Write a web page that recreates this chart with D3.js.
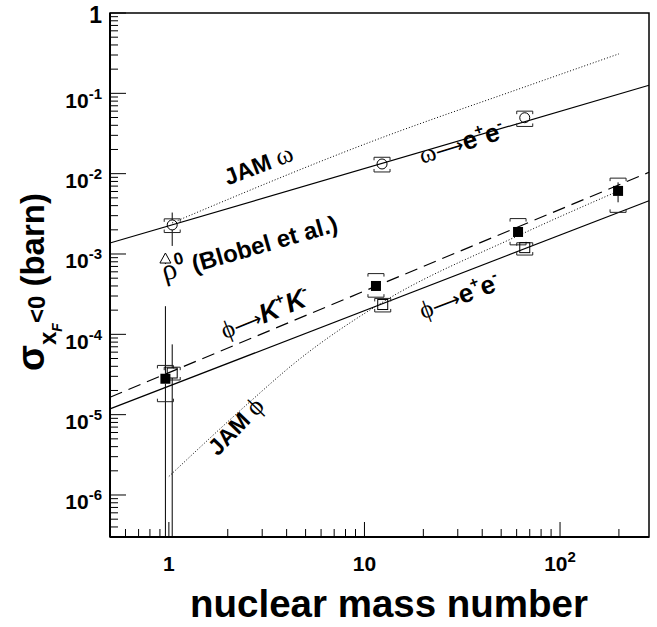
<!DOCTYPE html>
<html><head><meta charset="utf-8">
<script src="https://cdn.jsdelivr.net/npm/d3@7"></script>
<style>body{margin:0;background:#fff} svg{display:block}</style>
</head><body><svg id="c" width="657" height="627"></svg>
<script>
// ---------- data ----------
const omegaA = [1.04, 12.3, 66];
const omegaS = [2.3e-3, 1.32e-2, 4.97e-2];
const omegaStatLo = [1.26e-3, 1.32e-2, 4.97e-2];
const omegaStatHi = [3.28e-3, 1.32e-2, 4.97e-2];
const omegaSysLo = [1.85e-3, 1.05e-2, 3.87e-2];
const omegaSysHi = [2.74e-3, 1.6e-2, 6.0e-2];

const phiKKA = [0.96, 11.45, 61, 198];
const phiKKS = [2.8e-5, 4.0e-4, 1.88e-3, 6.1e-3];
const phiKKStatLo = [0, 4.0e-4, 1.88e-3, 4.4e-3];
const phiKKStatHi = [2.24e-4, 4.0e-4, 1.88e-3, 7.8e-3];
const phiKKSysLo = [1.45e-5, 2.9e-4, 1.3e-3, 3.3e-3];
const phiKKSysHi = [4.1e-5, 5.7e-4, 2.76e-3, 8.8e-3];

const phiEEA = [1.04, 12.4, 66];
const phiEES = [3.3e-5, 2.35e-4, 1.2e-3];
const phiEEStatLo = [0, 2.35e-4, 1.2e-3];
const phiEEStatHi = [7.5e-5, 2.35e-4, 1.2e-3];
const phiEESysLo = [2.7e-5, 1.9e-4, 9.7e-4];
const phiEESysHi = [3.9e-5, 2.8e-4, 1.38e-3];

const rhoA = [0.96];
const rhoS = [8.66e-4];
const rhoStatLo = [7.5e-4];
const rhoStatHi = [8.66e-4];

const fitOmegaA = [0.5, 285], fitOmegaS = [1.37e-3, 0.126];
const fitPhiKKA = [0.5, 285], fitPhiKKS = [1.65e-5, 1.04e-2];
const fitPhiEEA = [0.5, 285], fitPhiEES = [1.18e-5, 4.6e-3];
const jamOmegaA = [1.04, 12, 63, 200], jamOmegaS = [2.44e-3, 2.75e-2, 0.1155, 0.31];
const jamPhiA = [1, 2.6, 4.5, 12, 63, 190], jamPhiS = [1.7e-6, 1.45e-5, 4.6e-5, 2.4e-4, 1.75e-3, 5.8e-3];

const xMajor = [1, 10, 100];
const xMajorLabels = [["1", ""], ["10", ""], ["10", "2"]];
const yMajor = [1, 1e-1, 1e-2, 1e-3, 1e-4, 1e-5, 1e-6];
const yMajorLabels = [["1", ""], ["10", "-1"], ["10", "-2"], ["10", "-3"], ["10", "-4"], ["10", "-5"], ["10", "-6"]];

// ---------- setup ----------
const svg = d3.select("#c");
const L = 110, R = 649, T = 13, B = 537;
const x = d3.scaleLog().domain([0.5, 285]).range([L, R]);
const y = d3.scaleLog().domain([3e-7, 1]).range([B, T]);
const FONT = "'Liberation Sans', Arial, Helvetica, sans-serif";
const GREEK = "'Liberation Serif', 'DejaVu Serif', serif";
const ARROW = "'DejaVu Sans', sans-serif";
const yc = v => v <= y.domain()[0] ? B : y(v);

// minor ticks
const xMinor = [], yMinor = [];
for (let e = -1; e <= 2; e++) for (let k = 2; k <= 9; k++) {
  const v = k * Math.pow(10, e);
  if (v > 0.5 && v < 285 && !xMajor.includes(v)) xMinor.push(v);
}
for (let e = -7; e <= 0; e++) for (let k = 2; k <= 9; k++) {
  const v = k * Math.pow(10, e);
  if (v > 3e-7 && v < 1) yMinor.push(v);
}

const ax = svg.append("g").attr("stroke", "#000").attr("stroke-width", 1);
ax.selectAll(".xm").data(xMajor).join("line")
  .attr("x1", d => x(d)).attr("x2", d => x(d)).attr("y1", B).attr("y2", B - 15);
ax.selectAll(".xn").data(xMinor).join("line")
  .attr("x1", d => x(d)).attr("x2", d => x(d)).attr("y1", B).attr("y2", B - 8);
ax.selectAll(".ym").data(yMajor).join("line")
  .attr("y1", d => y(d)).attr("y2", d => y(d)).attr("x1", L).attr("x2", L + 16);
ax.selectAll(".yn").data(yMinor).join("line")
  .attr("y1", d => y(d)).attr("y2", d => y(d)).attr("x1", L).attr("x2", L + 8);

// frame
svg.append("rect").attr("x", L).attr("y", T).attr("width", R - L).attr("height", B - T)
  .attr("fill", "none").attr("stroke", "#000").attr("stroke-width", 1.5);
svg.append("line").attr("x1", L).attr("x2", R).attr("y1", B).attr("y2", B).attr("stroke", "#000").attr("stroke-width", 2);
svg.append("line").attr("x1", L).attr("x2", L).attr("y1", T).attr("y2", B).attr("stroke", "#000").attr("stroke-width", 2);

// tick labels
xMajor.forEach((v, i) => {
  const t = svg.append("text").attr("x", x(v)).attr("y", 571).attr("text-anchor", "middle")
    .attr("font-family", FONT).attr("font-weight", "bold").attr("font-size", 21);
  t.append("tspan").text(xMajorLabels[i][0]);
  if (xMajorLabels[i][1]) t.append("tspan").attr("dy", -9).attr("font-size", 15).text(xMajorLabels[i][1]);
});
yMajor.forEach((v, i) => {
  const hasSup = !!yMajorLabels[i][1];
  const t = svg.append("text").attr("x", 102).attr("y", y(v) + (hasSup ? 14.5 : 10)).attr("text-anchor", "end")
    .attr("font-family", FONT).attr("font-weight", "bold").attr("font-size", hasSup ? 21 : 23);
  t.append("tspan").text(yMajorLabels[i][0]);
  if (hasSup) t.append("tspan").attr("dy", -9).attr("font-size", 15).text(yMajorLabels[i][1]);
});

// axis titles
svg.append("text").attr("x", 389).attr("y", 617).attr("text-anchor", "middle")
  .attr("font-family", FONT).attr("font-weight", "bold").attr("font-size", 38.5).text("nuclear mass number");

const yt = svg.append("text").attr("transform", "translate(44,371) rotate(-90)")
  .attr("font-family", FONT).attr("font-weight", "bold").attr("font-size", 33);
yt.append("tspan").attr("font-size", 38).text("σ");
yt.append("tspan").attr("dy", 12).attr("font-size", 24).text("x");
yt.append("tspan").attr("dy", 6).attr("font-size", 14).attr("font-style", "italic").text("F");
yt.append("tspan").attr("dy", -17).attr("font-size", 24).text("<0");
yt.append("tspan").attr("dy", -1).attr("font-size", 33).text(" (barn)");

// ---------- lines ----------
const plot = svg.append("g");
const lineGen = d3.line().x(d => x(d[0])).y(d => y(d[1]));
const curveGen = d3.line().x(d => x(d[0])).y(d => y(d[1])).curve(d3.curveMonotoneX);
function drawLine(A, S, dash, gen) {
  plot.append("path").datum(A.map((a, i) => [a, S[i]])).attr("d", gen || lineGen)
    .attr("fill", "none").attr("stroke", "#000").attr("stroke-width", dash === "dot" ? 1 : 1.2)
    .attr("stroke-dasharray", dash === "dot" ? "1,2" : dash === "dash" ? "13,7" : null);
}
drawLine(fitOmegaA, fitOmegaS, null);
drawLine(fitPhiKKA, fitPhiKKS, "dash");
drawLine(fitPhiEEA, fitPhiEES, null);
drawLine(jamOmegaA, jamOmegaS, "dot", curveGen);
drawLine(jamPhiA, jamPhiS, "dot", curveGen);

// ---------- error bars ----------
function drawErrors(A, S, lo, hi, sysLo, sysHi, half) {
  A.forEach((a, i) => {
    const cx = x(a), cy = y(S[i]);
    if (y(hi[i]) < cy - half)
      plot.append("line").attr("x1", cx).attr("x2", cx).attr("y1", y(hi[i])).attr("y2", cy - half).attr("stroke", "#000");
    if (yc(lo[i]) > cy + half)
      plot.append("line").attr("x1", cx).attr("x2", cx).attr("y1", cy + half).attr("y2", yc(lo[i])).attr("stroke", "#000");
    if (sysLo) {
      const w = 8, t = 3, yt = y(sysHi[i]), yb = y(sysLo[i]);
      plot.append("path").attr("d", `M${cx - w},${yt + t}L${cx - w},${yt}L${cx + w},${yt}L${cx + w},${yt + t}`)
        .attr("fill", "none").attr("stroke", "#222").attr("stroke-width", 1);
      plot.append("path").attr("d", `M${cx - w},${yb - t}L${cx - w},${yb}L${cx + w},${yb}L${cx + w},${yb - t}`)
        .attr("fill", "none").attr("stroke", "#222").attr("stroke-width", 1);
    }
  });
}
drawErrors(omegaA, omegaS, omegaStatLo, omegaStatHi, omegaSysLo, omegaSysHi, 5);
drawErrors(phiEEA, phiEES, phiEEStatLo, phiEEStatHi, phiEESysLo, phiEESysHi, 5);
drawErrors(phiKKA, phiKKS, phiKKStatLo, phiKKStatHi, phiKKSysLo, phiKKSysHi, 5);
drawErrors(rhoA, rhoS, rhoStatLo, rhoStatHi, null, null, 4);

// ---------- markers ----------
plot.selectAll(".om").data(omegaA).join("circle")
  .attr("cx", d => x(d)).attr("cy", (d, i) => y(omegaS[i])).attr("r", 5)
  .attr("fill", "none").attr("stroke", "#000").attr("stroke-width", 1);
plot.selectAll(".pe").data(phiEEA).join("rect")
  .attr("x", d => x(d) - 5).attr("y", (d, i) => y(phiEES[i]) - 5).attr("width", 10).attr("height", 10)
  .attr("fill", "none").attr("stroke", "#000").attr("stroke-width", 1);
plot.selectAll(".pk").data(phiKKA).join("rect")
  .attr("x", d => x(d) - 5).attr("y", (d, i) => y(phiKKS[i]) - 5).attr("width", 10).attr("height", 10)
  .attr("fill", "#000");
plot.selectAll(".rh").data(rhoA).join("path")
  .attr("d", (d, i) => { const cx = x(d), cy = y(rhoS[i]); return `M${cx},${cy - 6}L${cx + 5.5},${cy + 4}L${cx - 5.5},${cy + 4}Z`; })
  .attr("fill", "none").attr("stroke", "#000").attr("stroke-width", 1);

// ---------- annotations ----------
function label(A, S, rot, parts) {
  const t = plot.append("text")
    .attr("transform", `translate(${x(A)},${y(S)}) rotate(${rot})`)
    .attr("font-family", FONT).attr("font-weight", "bold").attr("font-size", 23);
  parts.forEach(p => {
    const s = t.append("tspan").text(p.t);
    if (p.g) s.attr("font-family", GREEK).attr("font-weight", "normal");
    if (p.a) s.attr("font-family", ARROW).attr("font-weight", "normal");
    if (p.s) s.attr("font-size", p.s);
    if (p.dy) s.attr("dy", p.dy);
    if (p.it) s.attr("font-style", "italic");
    if (p.n) s.attr("font-weight", "normal");
  });
}
label(2.0, 7.1e-3, -21, [{t: "JAM "}, {t: "ω", g: 1, s: 26}]);
label(19.7, 1.33e-2, -17, [{t: "ω", g: 1, s: 25}, {t: "⟶", a: 1, s: 20}, {t: "e", s: 26}, {t: "+", s: 15, dy: -11}, {t: "e", s: 26, dy: 11}, {t: "-", s: 15, dy: -11}]);
label(0.95, 4.6e-4, -16, [{t: "ρ", g: 1, s: 30}, {t: "0", s: 17, dy: -12}, {t: " (Blobel et al.)", s: 24, dy: 12}]);
label(1.93, 8.66e-5, -22, [{t: "ϕ", g: 1, s: 25}, {t: "⟶", a: 1, s: 20}, {t: "K", s: 27, it: 1}, {t: "+", s: 15, dy: -12}, {t: "K", s: 27, dy: 12, it: 1}, {t: "-", s: 15, dy: -12}]);
label(19.9, 1.54e-4, -21, [{t: "ϕ", g: 1, s: 25}, {t: "⟶", a: 1, s: 20}, {t: "e", s: 26}, {t: "+", s: 15, dy: -11}, {t: "e", s: 26, dy: 11}, {t: "-", s: 15, dy: -11}]);
label(1.78, 3.0e-6, -46, [{t: "JAM "}, {t: "ϕ", g: 1, s: 26}]);
</script></body></html>
